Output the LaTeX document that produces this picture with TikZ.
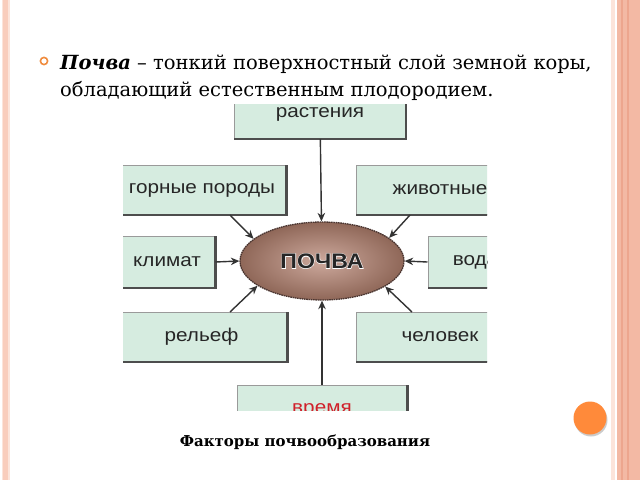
\documentclass[tikz,border=0pt]{standalone}
\usepackage{fontspec}
\setmainfont{DejaVu Serif}
\newfontfamily\boxfont{Liberation Sans}[FakeStretch=1.12]
\newfontfamily\soilfont{Liberation Sans Bold}[FakeStretch=1.1]
\newfontfamily\soilhalofont{Liberation Sans Bold}[FakeStretch=1.1, FakeBold=5]
\usetikzlibrary{arrows.meta,shapes.geometric}
\definecolor{boxfill}{HTML}{D6ECE0}
\definecolor{boxedge}{HTML}{9A9A9A}
\definecolor{boxdark}{HTML}{4D4D4D}
\definecolor{arrowc}{HTML}{333333}
\definecolor{soilin}{HTML}{CDA99D}
\definecolor{soilout}{HTML}{8F6758}
\definecolor{soiledge}{HTML}{4A3530}
\definecolor{framea}{HTML}{F9CDBC}
\definecolor{frameb}{HTML}{FCE4DA}
\definecolor{framec}{HTML}{F3B9A4}
\definecolor{framed}{HTML}{EDA68E}
\definecolor{bulletc}{HTML}{F08A3C}
\definecolor{orangeball}{HTML}{FF8A3A}
\definecolor{redtext}{HTML}{D0202A}
\newcommand\halo[1]{%
  \rlap{\soilhalofont\textcolor{white}{#1}}{\soilfont #1}}
\tikzset{
  factor/.style={rectangle, fill=boxfill, draw=boxedge, line width=1pt,
    inner sep=0pt, minimum height=49pt,
    font=\boxfont\fontsize{18.5}{20}\selectfont, text=black!85},
  shadowedge/.style={draw=boxdark, line width=2.6pt},
  arr/.style={draw=arrowc, line width=1.4pt, -{Stealth[length=8.5pt,width=7.5pt]}},
}
\begin{document}
\begin{tikzpicture}[x=1pt,y=-1pt]
\useasboundingbox (0,0) rectangle (640,480);
\fill[white] (0,0) rectangle (640,480);
% slide frame
\fill[frameb] (1.5,0) rectangle (9.5,480);
\fill[framea] (3,0) rectangle (8,480);
\fill[frameb] (611,0) rectangle (615,480);
\fill[framec] (617,0) rectangle (640,480);
\fill[framed] (621,0) rectangle (623,480);
\fill[framed] (627,0) rectangle (628.5,480);
% heading
\draw[bulletc, line width=1.6pt] (44,61) circle (3.6);
\node[anchor=base west, inner sep=0pt, font=\fontsize{19.5}{22}\selectfont] (hdrA) at (60,69)
  {\textbf{\textit{Почва}} – тонкий поверхностный слой земной коры,};
\node[anchor=base west, inner sep=0pt, font=\fontsize{19.5}{22}\selectfont] (hdrB) at (60,96)
  {обладающий естественным плодородием.};
% diagram
\begin{scope}
\clip (123,104) rectangle (487,410);
\node[factor, minimum width=171pt] (rast) at (320,114) {растения};
\node[factor, minimum width=168pt] (gp) at (202,190) {горные породы};
\node[factor, minimum width=168pt] (zhiv) at (440,190) {животные};
\node[factor, minimum width=96pt, minimum height=51pt] (klim) at (167,262) {климат};
\node[factor, minimum width=95pt, minimum height=51pt] (vod) at (475.5,262) {вода};
\node[factor, minimum width=171pt] (rel) at (201.5,337) {рельеф};
\node[factor, minimum width=168pt] (chel) at (440,337) {человек};
\node[factor, minimum width=170pt, text=redtext] (vrem) at (322,410) {время};
\foreach \n in {rast,gp,zhiv,klim,vod,rel,chel,vrem}
  \draw[shadowedge] (\n.north east) -- (\n.south east) -- (\n.south west);
\node[ellipse, minimum width=164pt, minimum height=78pt, inner sep=0pt,
  inner color=soilin, outer color=soilout, draw=soiledge, line width=1.3pt,
  dash pattern=on 1.6pt off 0.7pt,
  font=\fontsize{21}{22}\selectfont, text=black!85] (soil) at (322,261)
  {\halo{ПОЧВА}};
\draw[arr] (rast) -- (soil);
\draw[arr] ([xshift=28pt]gp.south) -- (soil.162);
\draw[arr] ([xshift=-30pt]zhiv.south) -- (soil.19);
\draw[arr] (klim.east) -- (soil.west);
\draw[arr] (vod.west) -- (soil.east);
\draw[arr] ([xshift=28.5pt]rel.north) -- (soil.201);
\draw[arr] ([xshift=-28pt]chel.north) -- (soil.338);
\draw[arr] (vrem.north) -- (soil.south);
\end{scope}
% caption
\node[anchor=base, inner sep=0pt, font=\bfseries\fontsize{15}{18}\selectfont] (cap) at (305,446)
  {Факторы почвообразования};
% orange ball
\fill[black!40, opacity=.5] (591,420) circle (16.5);
\fill[orangeball] (590,418) circle (16.5);
\end{tikzpicture}
\end{document}
